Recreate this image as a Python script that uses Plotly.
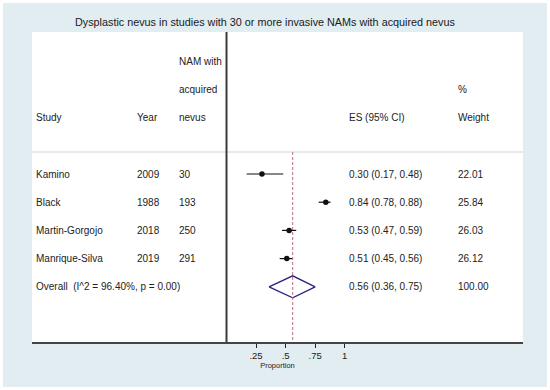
import plotly.graph_objects as go

# ---- data ----
studies = ["Kamino", "Black", "Martin-Gorgojo", "Manrique-Silva"]
years = ["2009", "1988", "2018", "2019"]
nam_counts = ["30", "193", "250", "291"]
es = [0.30, 0.84, 0.53, 0.51]
ci_low = [0.17, 0.78, 0.47, 0.45]
ci_high = [0.48, 0.88, 0.59, 0.56]
weights = ["22.01", "25.84", "26.03", "26.12"]
overall_label = "Overall  (I^2 = 96.40%, p = 0.00)"
overall_es = 0.56
overall_low = 0.36
overall_high = 0.75
overall_weight = "100.00"
tick_vals = [0.25, 0.5, 0.75, 1.0]
tick_text = [".25", ".5", ".75", "1"]

# ---- layout constants ----
W, H = 550, 390
L, R, T, B = 32, 27, 32, 48
X0PX, XSCALE = 226.5, 118.2          # pixel of 0 and px per unit
xr = [(L - X0PX) / XSCALE, (W - R - X0PX) / XSCALE]
ROW0PX, ROWPX = 174.0, 28.2
yr = [((H - B) - ROW0PX) / ROWPX, (T - ROW0PX) / ROWPX]

def colx(px):
    return (px - X0PX) / XSCALE

FONT = "Liberation Sans, Arial, Helvetica, sans-serif"
TXT = "#222222"
fs = 10

fig = go.Figure()

n = len(studies)
rows = list(range(n))
# CI lines
for i in rows:
    fig.add_trace(go.Scatter(x=[ci_low[i], ci_high[i]], y=[i, i], mode="lines",
                             line=dict(color="#111111", width=1.2),
                             hoverinfo="skip", showlegend=False))
fig.add_trace(go.Scatter(x=es, y=rows, mode="markers",
                         marker=dict(color="#111111", size=5.5),
                         showlegend=False))
# diamond
oy = n
h = 0.39
fig.add_trace(go.Scatter(x=[overall_low, overall_es, overall_high, overall_es, overall_low],
                         y=[oy, oy - h, oy, oy + h, oy], mode="lines",
                         line=dict(color="#2b2580", width=1.3),
                         showlegend=False, hoverinfo="skip"))

ann = []
def add(text, px, row, size=fs):
    ann.append(dict(text=text, x=colx(px), y=row, xref="x", yref="y",
                    xanchor="left", yanchor="middle", showarrow=False,
                    borderpad=0, borderwidth=0,
                    font=dict(family=FONT, size=size, color=TXT)))

STUDY_PX, YEAR_PX, NAM_PX, ES_PX, WT_PX = 36, 136.5, 178.5, 349, 458
# header
add("NAM with", NAM_PX, -4)
add("acquired", NAM_PX, -3)
add("%", WT_PX, -3)
add("Study", STUDY_PX, -2)
add("Year", YEAR_PX, -2)
add("nevus", NAM_PX, -2)
add("ES (95% CI)", ES_PX, -2)
add("Weight", WT_PX, -2)
for i in rows:
    add(studies[i], STUDY_PX, i)
    add(years[i], YEAR_PX, i)
    add(nam_counts[i], NAM_PX, i)
    add(f"{es[i]:.2f} ({ci_low[i]:.2f}, {ci_high[i]:.2f})", ES_PX, i)
    add(weights[i], WT_PX, i)
add(overall_label, STUDY_PX, oy)
add(f"{overall_es:.2f} ({overall_low:.2f}, {overall_high:.2f})", ES_PX, oy)
add(overall_weight, WT_PX, oy - 0.02)

# title
ann.append(dict(text="Dysplastic nevus in studies with 30 or more invasive NAMs with acquired nevus",
                x=(265 - L) / (W - L - R), y=1 + (T - 22) / (H - T - B),
                xref="paper", yref="paper", xanchor="center", yanchor="middle",
                showarrow=False, font=dict(family=FONT, size=10.8, color="#1a1a1a")))

def px2paperx(px):
    return (px - L) / (W - L - R)

def py2papery(py):
    return (H - B - py) / (H - T - B)

shapes = [
    # outer light blue panel and inner white plot region
    dict(type="rect", xref="paper", yref="paper", layer="below",
         x0=px2paperx(3), x1=px2paperx(547), y0=py2papery(387), y1=py2papery(3),
         fillcolor="#e1edf0", line=dict(width=0)),
    dict(type="rect", xref="paper", yref="paper", layer="below",
         x0=0, x1=1, y0=0, y1=1, fillcolor="white", line=dict(width=0)),
    # header separator
    dict(type="line", xref="paper", yref="y", x0=0, x1=1,
         y0=(152 - ROW0PX) / ROWPX, y1=(152 - ROW0PX) / ROWPX,
         line=dict(color="#d4d4d4", width=1.2)),
    # vertical divider at 0
    dict(type="line", xref="x", yref="paper", x0=0, x1=0, y0=0, y1=1,
         line=dict(color="#3a3a3a", width=2)),
    # overall dashed line
    dict(type="line", xref="x", yref="y", x0=overall_es, x1=overall_es,
         y0=(152 - ROW0PX) / ROWPX, y1=yr[0],
         line=dict(color="#b8707c", width=1, dash="3px,2px")),
]

fig.update_layout(
    width=W, height=H,
    margin=dict(l=L, r=R, t=T, b=B, pad=0),
    paper_bgcolor="white", plot_bgcolor="rgba(0,0,0,0)",
    font=dict(family=FONT, color=TXT),
    showlegend=False,
    annotations=ann, shapes=shapes,
    xaxis=dict(range=xr, showgrid=False, zeroline=False,
               tickvals=tick_vals, ticktext=tick_text,
               ticks="outside", ticklen=4, tickwidth=1.2, tickcolor="#222",
               tickfont=dict(family=FONT, size=9.5, color=TXT),
               showline=True, linecolor="#444444", linewidth=1.6,
               title=dict(text="Proportion", standoff=1,
                          font=dict(family=FONT, size=7.5, color=TXT))),
    yaxis=dict(range=yr, showgrid=False, zeroline=False, showticklabels=False,
               ticks="", showline=False),
)

fig.write_html("out.html", config={"displayModeBar": False},
               post_script="document.body.style.margin='0';")
